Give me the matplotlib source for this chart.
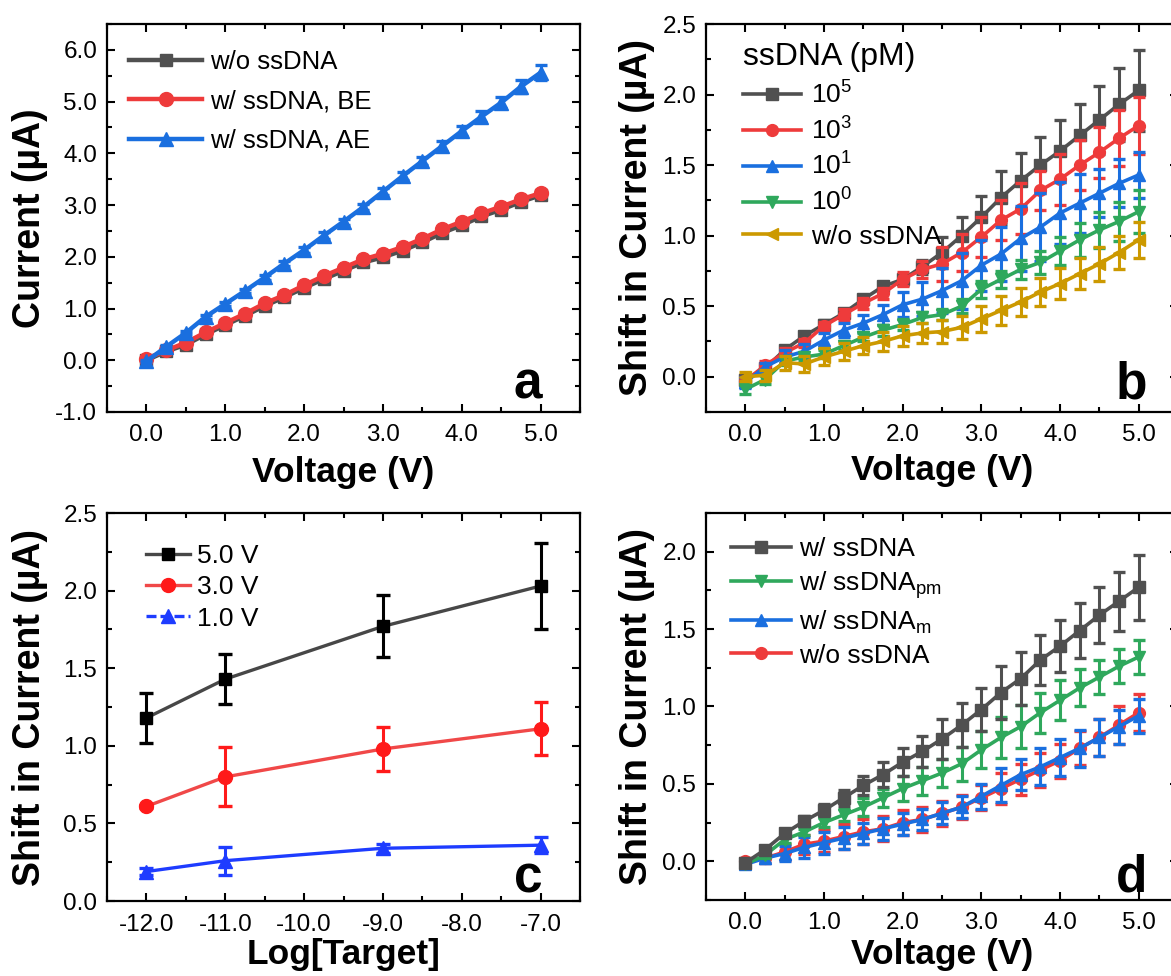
#Current / shift in current vs voltage, 4 panels

import numpy as np
import matplotlib
matplotlib.use('Agg')
import matplotlib.pyplot as plt
from matplotlib.lines import Line2D
from matplotlib.ticker import MultipleLocator, FormatStrFormatter

plt.rcParams['font.family'] = ['Liberation Sans', 'DejaVu Sans']
plt.rcParams['mathtext.fontset'] = 'custom'
plt.rcParams['mathtext.rm'] = 'Liberation Sans'
plt.rcParams['mathtext.default'] = 'regular'

#data
volt = [0.0, 0.25, 0.5, 0.75, 1.0, 1.25, 1.5, 1.75, 2.0, 2.25, 2.5,
        2.75, 3.0, 3.25, 3.5, 3.75, 4.0, 4.25, 4.5, 4.75, 5.0]

# panel a
a_wo = [0.0, 0.17, 0.30, 0.50, 0.68, 0.86, 1.05, 1.22, 1.40, 1.57, 1.73,
        1.89, 1.99, 2.12, 2.28, 2.46, 2.61, 2.78, 2.91, 3.06, 3.19]
a_wo_err = [0.02, 0.02, 0.02, 0.02, 0.02, 0.03, 0.03, 0.03, 0.03, 0.03, 0.03,
            0.04, 0.04, 0.04, 0.04, 0.04, 0.04, 0.05, 0.05, 0.05, 0.05]
a_be = [0.03, 0.19, 0.34, 0.54, 0.72, 0.90, 1.10, 1.26, 1.45, 1.63, 1.79,
        1.95, 2.06, 2.19, 2.35, 2.53, 2.68, 2.84, 2.97, 3.11, 3.23]
a_be_err = [0.02, 0.02, 0.02, 0.03, 0.03, 0.03, 0.03, 0.03, 0.04, 0.04, 0.04,
            0.04, 0.04, 0.05, 0.05, 0.05, 0.05, 0.05, 0.06, 0.06, 0.06]
a_ae = [-0.02, 0.26, 0.53, 0.84, 1.09, 1.34, 1.60, 1.87, 2.13, 2.41, 2.68,
        2.96, 3.26, 3.56, 3.85, 4.14, 4.43, 4.71, 4.98, 5.29, 5.56]
a_ae_err = [0.02, 0.03, 0.03, 0.04, 0.04, 0.04, 0.05, 0.05, 0.05, 0.06, 0.06,
            0.06, 0.07, 0.08, 0.08, 0.09, 0.10, 0.10, 0.11, 0.13, 0.15]

# panel b
b_e5 = [-0.02, 0.06, 0.19, 0.29, 0.37, 0.45, 0.55, 0.64, 0.69, 0.78, 0.88,
        1.00, 1.13, 1.27, 1.39, 1.50, 1.60, 1.71, 1.82, 1.93, 2.03]
b_e5_err = [0.03, 0.02, 0.03, 0.03, 0.03, 0.03, 0.03, 0.03, 0.04, 0.05, 0.11,
            0.135, 0.15, 0.185, 0.195, 0.20, 0.22, 0.225, 0.24, 0.26, 0.285]
b_e3 = [-0.03, 0.08, 0.17, 0.24, 0.36, 0.44, 0.52, 0.59, 0.69, 0.76, 0.80,
        0.88, 0.99, 1.11, 1.19, 1.32, 1.40, 1.50, 1.59, 1.69, 1.78]
b_e3_err = [0.03, 0.03, 0.03, 0.03, 0.03, 0.04, 0.04, 0.04, 0.05, 0.06, 0.12,
            0.13, 0.14, 0.14, 0.18, 0.14, 0.18, 0.18, 0.18, 0.20, 0.20]
b_e1 = [-0.04, 0.07, 0.14, 0.18, 0.26, 0.33, 0.38, 0.44, 0.51, 0.55, 0.61,
        0.68, 0.79, 0.87, 0.98, 1.06, 1.16, 1.23, 1.30, 1.37, 1.43]
b_e1_err = [0.04, 0.03, 0.05, 0.05, 0.05, 0.05, 0.06, 0.07, 0.09, 0.12, 0.16,
            0.20, 0.18, 0.19, 0.23, 0.24, 0.22, 0.21, 0.17, 0.17, 0.16]
b_e0 = [-0.09, -0.02, 0.11, 0.14, 0.16, 0.22, 0.28, 0.33, 0.37, 0.42, 0.44,
        0.50, 0.62, 0.69, 0.76, 0.81, 0.89, 0.97, 1.04, 1.10, 1.17]
b_e0_err = [0.03, 0.03, 0.03, 0.03, 0.03, 0.03, 0.03, 0.04, 0.04, 0.04, 0.04,
            0.05, 0.06, 0.06, 0.07, 0.08, 0.10, 0.12, 0.13, 0.14, 0.15]
b_wo = [0.00, 0.01, 0.10, 0.09, 0.14, 0.18, 0.22, 0.25, 0.29, 0.31, 0.32,
        0.35, 0.41, 0.47, 0.53, 0.60, 0.66, 0.73, 0.80, 0.88, 0.97]
b_wo_err = [0.03, 0.04, 0.05, 0.06, 0.06, 0.06, 0.06, 0.07, 0.07, 0.07, 0.08,
            0.08, 0.09, 0.10, 0.10, 0.10, 0.11, 0.11, 0.12, 0.12, 0.13]

# panel c
log_target = [-12, -11, -9, -7]
c_5v = [1.18, 1.43, 1.77, 2.03]
c_5v_err = [0.16, 0.16, 0.20, 0.28]
c_3v = [0.61, 0.80, 0.98, 1.11]
c_3v_err = [0.01, 0.19, 0.14, 0.17]
c_1v = [0.19, 0.26, 0.34, 0.36]
c_1v_err = [0.02, 0.09, 0.03, 0.05]

# panel d
d_w = [-0.01, 0.075, 0.18, 0.26, 0.33, 0.41, 0.49, 0.56, 0.64, 0.71, 0.79,
       0.88, 0.98, 1.09, 1.18, 1.30, 1.39, 1.49, 1.59, 1.68, 1.77]
d_w_err = [0.01, 0.02, 0.02, 0.03, 0.04, 0.05, 0.06, 0.08, 0.09, 0.10, 0.13,
           0.14, 0.14, 0.17, 0.17, 0.16, 0.17, 0.18, 0.18, 0.19, 0.21]
d_pm = [-0.02, 0.04, 0.14, 0.19, 0.25, 0.30, 0.35, 0.41, 0.47, 0.52, 0.57,
        0.63, 0.72, 0.80, 0.87, 0.96, 1.04, 1.12, 1.19, 1.26, 1.32]
d_pm_err = [0.01, 0.02, 0.02, 0.02, 0.03, 0.04, 0.06, 0.06, 0.08, 0.09, 0.09,
            0.11, 0.12, 0.13, 0.14, 0.13, 0.13, 0.12, 0.11, 0.11, 0.11]
d_m = [-0.02, 0.02, 0.05, 0.09, 0.12, 0.15, 0.18, 0.21, 0.24, 0.27, 0.31,
       0.35, 0.42, 0.49, 0.56, 0.61, 0.67, 0.73, 0.80, 0.87, 0.94]
d_m_err = [0.02, 0.03, 0.05, 0.07, 0.07, 0.07, 0.07, 0.07, 0.07, 0.07, 0.07,
           0.07, 0.08, 0.11, 0.10, 0.12, 0.12, 0.12, 0.12, 0.11, 0.11]
d_wo = [0.00, 0.02, 0.06, 0.11, 0.13, 0.16, 0.19, 0.21, 0.25, 0.27, 0.31,
        0.35, 0.41, 0.47, 0.53, 0.59, 0.65, 0.73, 0.80, 0.88, 0.96]
d_wo_err = [0.02, 0.03, 0.05, 0.06, 0.07, 0.08, 0.08, 0.08, 0.08, 0.08, 0.08,
            0.08, 0.08, 0.10, 0.10, 0.11, 0.11, 0.11, 0.12, 0.12, 0.12]

GRAY = '#505050'
RED = '#EE3B3B'
BLUE = '#1A6FDF'
GREEN = '#2FA85C'
GOLD = '#CC9900'

fig = plt.figure(figsize=(11.71, 9.76), dpi=100)
ax_a = fig.add_axes([0.0914, 0.5779, 0.4039, 0.3975])
ax_b = fig.add_axes([0.6029, 0.5779, 0.4031, 0.3975])
ax_c = fig.add_axes([0.0914, 0.0768, 0.4039, 0.3975])
ax_d = fig.add_axes([0.6029, 0.0779, 0.4031, 0.3965])


def style(ax, xmaj, ymaj):
    ax.xaxis.set_major_locator(MultipleLocator(xmaj))
    ax.xaxis.set_minor_locator(MultipleLocator(xmaj / 2))
    ax.yaxis.set_major_locator(MultipleLocator(ymaj))
    ax.yaxis.set_minor_locator(MultipleLocator(ymaj / 2))
    ax.xaxis.set_major_formatter(FormatStrFormatter('%.1f'))
    ax.yaxis.set_major_formatter(FormatStrFormatter('%.1f'))
    ax.tick_params(which='both', direction='in', top=True, right=True,
                   width=1.5, labelsize=17.5)
    ax.tick_params(which='major', length=6)
    ax.tick_params(which='minor', length=3.5)
    ax.tick_params(axis='x', pad=9)
    ax.tick_params(axis='y', pad=7)
    for s in ax.spines.values():
        s.set_linewidth(1.6)


def labels(ax, xt, yt, xy, yx):
    ax.set_xlabel(xt, fontsize=25.5, fontweight='bold')
    ax.set_ylabel(yt, fontsize=27, fontweight='bold')
    ax.xaxis.set_label_coords(0.5, xy)
    ax.yaxis.set_label_coords(yx, 0.5)
    ax.xaxis.label.set_va('center')
    ax.yaxis.label.set_va('center')


def eb(ax, x, y, e, color, marker, ms, lw, z):
    ax.errorbar(x, y, yerr=e, color=color, marker=marker, markersize=ms,
                linewidth=lw, elinewidth=2.2, capsize=4.5, capthick=2.4,
                zorder=z)


# a
eb(ax_a, volt, a_wo, a_wo_err, GRAY, 's', 9, 3.2, 2)
eb(ax_a, volt, a_be, a_be_err, RED, 'o', 10, 3.2, 3)
eb(ax_a, volt, a_ae, a_ae_err, BLUE, '^', 10.5, 3.2, 4)
ax_a.set_xlim(-0.5, 5.5)
ax_a.set_ylim(-1.0, 6.5)
style(ax_a, 1.0, 1.0)
labels(ax_a, 'Voltage (V)', 'Current (\u00b5A)', -0.155, -0.163)
h_a = [Line2D([], [], color=GRAY, marker='s', ms=9, lw=3.2),
       Line2D([], [], color=RED, marker='o', ms=10, lw=3.2),
       Line2D([], [], color=BLUE, marker='^', ms=10.5, lw=3.2)]
ax_a.legend(h_a, ['w/o ssDNA', 'w/ ssDNA, BE', 'w/ ssDNA, AE'],
            loc='upper left', bbox_to_anchor=(0.025, 0.96), frameon=False,
            fontsize=18.5, handlelength=2.85, handletextpad=0.3,
            labelspacing=0.6, borderaxespad=0)
ax_a.text(0.92, 0.036, 'a', transform=ax_a.transAxes, fontsize=37,
          fontweight='bold', ha='right', va='baseline')

# b
eb(ax_b, volt, b_e5, b_e5_err, GRAY, 's', 8, 2.6, 2)
eb(ax_b, volt, b_e3, b_e3_err, RED, 'o', 8.5, 2.6, 3)
eb(ax_b, volt, b_e1, b_e1_err, BLUE, '^', 9, 2.6, 4)
eb(ax_b, volt, b_e0, b_e0_err, GREEN, 'v', 9, 2.6, 5)
eb(ax_b, volt, b_wo, b_wo_err, GOLD, '<', 9, 2.6, 6)
ax_b.set_xlim(-0.5, 5.5)
ax_b.set_ylim(-0.25, 2.5)
style(ax_b, 1.0, 0.5)
labels(ax_b, 'Voltage (V)', 'Shift in Current (\u00b5A)', -0.152, -0.146)
h_b = [Line2D([], [], color=GRAY, marker='s', ms=8, lw=2.6),
       Line2D([], [], color=RED, marker='o', ms=8.5, lw=2.6),
       Line2D([], [], color=BLUE, marker='^', ms=9, lw=2.6),
       Line2D([], [], color=GREEN, marker='v', ms=9, lw=2.6),
       Line2D([], [], color=GOLD, marker='<', ms=9, lw=2.6)]
leg_b = ax_b.legend(h_b, ['$10^5$', '$10^3$', '$10^1$', '$10^0$', 'w/o ssDNA'],
                    loc='upper left', bbox_to_anchor=(0.055, 0.98), frameon=False,
                    fontsize=19, handlelength=2.2, handletextpad=0.4,
                    labelspacing=0.33, borderaxespad=0,
                    title='ssDNA (pM)', title_fontsize=23)
leg_b._legend_box.align = 'left'
ax_b.text(0.935, 0.036, 'b', transform=ax_b.transAxes, fontsize=37,
          fontweight='bold', ha='right', va='baseline')

# c
C_RED = '#FF1A1A'
C_BLUE = '#1E3CFF'
ax_c.plot(log_target, c_5v, color='#474747', lw=2.4, zorder=2)
ax_c.errorbar(log_target, c_5v, yerr=c_5v_err, fmt='s', color='black',
              ms=9, elinewidth=2.2, capsize=5, capthick=2.4, zorder=3)
ax_c.plot(log_target, c_3v, color='#F04848', lw=2.4, zorder=2)
ax_c.errorbar(log_target, c_3v, yerr=c_3v_err, fmt='o', color=C_RED,
              ms=10, elinewidth=2.2, capsize=5, capthick=2.4, zorder=3)
ax_c.plot(log_target, c_1v, color=C_BLUE, lw=2.4, zorder=2)
ax_c.errorbar(log_target, c_1v, yerr=c_1v_err, fmt='^', color=C_BLUE,
              ms=10, elinewidth=2.2, capsize=5, capthick=2.4, zorder=3)
ax_c.set_xlim(-12.5, -6.5)
ax_c.set_ylim(0, 2.5)
style(ax_c, 1.0, 0.5)
labels(ax_c, 'Log[Target]', 'Shift in Current (\u00b5A)', -0.139, -0.163)
h_c = [Line2D([], [], color='#474747', lw=2.4, marker='s', ms=9,
              markerfacecolor='black', markeredgecolor='black'),
       Line2D([], [], color='#F04848', lw=2.4, marker='o', ms=10,
              markerfacecolor=C_RED, markeredgecolor=C_RED),
       Line2D([], [], color=C_BLUE, lw=2.4, ls=(0, (3, 1.2)), marker='^', ms=10)]
ax_c.legend(h_c, ['5.0 V', '3.0 V', '1.0 V'], loc='upper left',
            bbox_to_anchor=(0.06, 0.948), frameon=False, fontsize=19,
            handlelength=1.65, handletextpad=0.3, labelspacing=0.28,
            borderaxespad=0)
ax_c.text(0.92, 0.023, 'c', transform=ax_c.transAxes, fontsize=37,
          fontweight='bold', ha='right', va='baseline')

# d
eb(ax_d, volt, d_wo, d_wo_err, RED, 'o', 8.5, 2.6, 2)
eb(ax_d, volt, d_m, d_m_err, BLUE, '^', 9, 2.6, 3)
eb(ax_d, volt, d_pm, d_pm_err, GREEN, 'v', 9, 2.6, 4)
eb(ax_d, volt, d_w, d_w_err, GRAY, 's', 8, 2.6, 5)
ax_d.set_xlim(-0.5, 5.5)
ax_d.set_ylim(-0.25, 2.25)
style(ax_d, 1.0, 0.5)
labels(ax_d, 'Voltage (V)', 'Shift in Current (\u00b5A)', -0.142, -0.146)
h_d = [Line2D([], [], color=GRAY, marker='s', ms=8, lw=2.6),
       Line2D([], [], color=GREEN, marker='v', ms=9, lw=2.6),
       Line2D([], [], color=BLUE, marker='^', ms=9, lw=2.6),
       Line2D([], [], color=RED, marker='o', ms=8.5, lw=2.6)]
ax_d.legend(h_d, ['w/ ssDNA', 'w/ ssDNA$_{pm}$', 'w/ ssDNA$_{m}$', 'w/o ssDNA'],
            loc='upper left', bbox_to_anchor=(0.03, 0.965), frameon=False,
            fontsize=19, handlelength=2.3, handletextpad=0.3,
            labelspacing=0.3, borderaxespad=0)
ax_d.text(0.935, 0.023, 'd', transform=ax_d.transAxes, fontsize=37,
          fontweight='bold', ha='right', va='baseline')

plt.savefig('out.png', dpi=100)
